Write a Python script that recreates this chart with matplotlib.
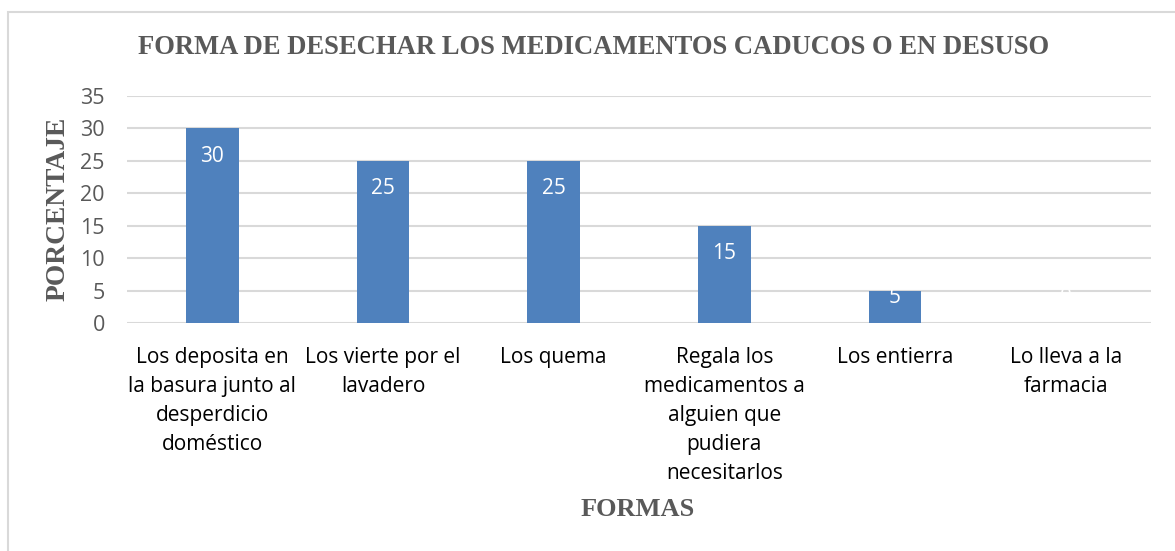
import matplotlib
matplotlib.use("Agg")
import matplotlib.pyplot as plt
from matplotlib.patches import Rectangle

categories = [
    "Los deposita en\nla basura junto al\ndesperdicio\ndoméstico",
    "Los vierte por el\nlavadero",
    "Los quema",
    "Regala los\nmedicamentos a\nalguien que\npudiera\nnecesitarlos",
    "Los entierra",
    "Lo lleva a la\nfarmacia",
]
values = [30, 25, 25, 15, 5, 0]
yticks = [0, 5, 10, 15, 20, 25, 30, 35]

W, H = 1175, 551
fig = plt.figure(figsize=(W / 100, H / 100), dpi=100)
fig.patch.set_facecolor("white")

# outer chart border
fig.add_artist(Rectangle((8 / W, -0.05), 1.2, 1 - 12 / H + 0.05, transform=fig.transFigure,
                         fill=False, edgecolor="#D9D9D9", linewidth=1.5))

ax = fig.add_axes([127 / W, 1 - 323 / H, (1151 - 127) / W, (323 - 96) / H])
x = list(range(len(categories)))
ax.bar(x, values, width=0.31, color="#4F81BD", zorder=3)
ax.set_xlim(-0.5, len(categories) - 0.5)
ax.set_ylim(0, 35)
ax.set_yticks(yticks)
ax.set_yticklabels([str(t) for t in yticks], fontsize=15.5, color="#595959", family="Open Sans")
ax.set_xticks(x)
ax.set_xticklabels(categories, fontsize=15, color="black", family="Open Sans", linespacing=1.5, va="top")
ax.tick_params(axis="both", length=0)
ax.tick_params(axis="x", pad=17)
ax.tick_params(axis="y", pad=16)
ax.grid(axis="y", color="#D9D9D9", linewidth=1.5, zorder=0)
for s in ax.spines.values():
    s.set_visible(False)

for xi, v in zip(x, values):
    ax.text(xi, max(v - 4.3, 4.0), str(v), ha="center", va="center", color="white",
            fontsize=15, family="Open Sans", zorder=4)

fig.text(594 / W, 1 - 48 / H, "FORMA DE DESECHAR LOS MEDICAMENTOS CADUCOS O EN DESUSO",
         ha="center", va="center", fontsize=19.2, fontweight="bold", color="#595959",
         family="Liberation Serif")
fig.text(58 / W, 1 - 209 / H, "PORCENTAJE", ha="center", va="center", rotation=90,
         fontsize=19.8, fontweight="bold", color="#595959", family="Liberation Serif")
fig.text(638 / W, 1 - 510 / H, "FORMAS", ha="center", va="center",
         fontsize=19, fontweight="bold", color="#595959", family="Liberation Serif")

fig.savefig("out.png", dpi=100, facecolor="white")
